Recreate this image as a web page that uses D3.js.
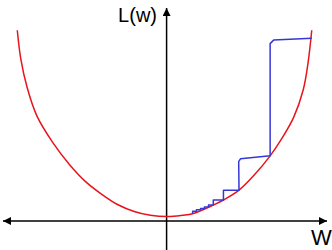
<!DOCTYPE html>
<html>
<head>
<meta charset="utf-8">
<script src="https://cdn.jsdelivr.net/npm/d3@7"></script>
<style>
  body { margin: 0; background: #fff; }
  svg { display: block; }
  text { font-family: "Liberation Sans", Arial, sans-serif; fill: #000; }
</style>
</head>
<body>
<svg id="chart"></svg>
<script>
// loss curve L(w)
const curveW = [-4.70, -4.59, -4.39, -4.08, -3.57, -3.06, -2.55, -2.04, -1.53, -1.02, -0.51, 0.05, 0.50, 0.82, 1.47, 1.79, 2.28, 2.78, 3.26, 3.60, 4.00, 4.30, 4.45, 4.57];
const curveL = [6.00, 5.10, 4.20, 3.30, 2.45, 1.78, 1.24, 0.84, 0.51, 0.30, 0.18, 0.14, 0.18, 0.23, 0.50, 0.66, 0.97, 1.47, 2.05, 2.55, 3.26, 4.12, 4.95, 6.00];

// descent steps (blue)
const stepW = [4.57, 3.37, 3.26, 3.26, 2.33, 2.27, 2.28, 1.79, 1.79, 1.47, 1.47, 1.32, 1.32, 1.19, 1.19, 1.07, 1.07, 0.94, 0.94, 0.82, 0.82];
const stepL = [5.75, 5.69, 5.58, 2.05, 1.96, 1.87, 0.97, 0.97, 0.66, 0.66, 0.50, 0.50, 0.44, 0.44, 0.39, 0.39, 0.35, 0.35, 0.31, 0.31, 0.22];

const xLabel = "W", yLabel = "L(w)";

const width = 332, height = 250;

const svg = d3.select("#chart")
              .attr("width", width)
              .attr("height", height);

const x = d3.scaleLinear().domain([-5.15, 5.05]).range([3, 327]);
const y = d3.scaleLinear().domain([0, 6.7]).range([221, 8]);

svg.append("defs").append("marker")
   .attr("id", "arrow")
   .attr("viewBox", "0 0 10 10")
   .attr("refX", 10)
   .attr("refY", 5)
   .attr("markerUnits", "userSpaceOnUse")
   .attr("markerWidth", 10)
   .attr("markerHeight", 8)
   .attr("orient", "auto-start-reverse")
   .append("path")
   .attr("d", "M0,0L10,5L0,10z")
   .attr("fill", "#000");

// axes
svg.append("line")
   .attr("x1", x(-5.15)).attr("x2", x(5.05))
   .attr("y1", y(0)).attr("y2", y(0))
   .attr("stroke", "#000").attr("stroke-width", 1.5)
   .attr("marker-start", "url(#arrow)")
   .attr("marker-end", "url(#arrow)");

svg.append("line")
   .attr("x1", x(0)).attr("x2", x(0))
   .attr("y1", height).attr("y2", y(6.7))
   .attr("stroke", "#000").attr("stroke-width", 1.5)
   .attr("marker-end", "url(#arrow)");

const curve = d3.line()
    .x(i => x(curveW[i]))
    .y(i => y(curveL[i]))
    .curve(d3.curveCatmullRom.alpha(0.5));

svg.append("path")
   .attr("d", curve(d3.range(curveW.length)))
   .attr("fill", "none")
   .attr("stroke", "#e8141c")
   .attr("stroke-width", 1.5);

const steps = d3.line()
    .x(i => x(stepW[i]))
    .y(i => y(stepL[i]));

svg.append("path")
   .attr("d", steps(d3.range(stepW.length)))
   .attr("fill", "none")
   .attr("stroke", "#3636d8")
   .attr("stroke-width", 1.5)
   .attr("stroke-linejoin", "round");

svg.append("text")
   .attr("x", 311)
   .attr("y", 245)
   .attr("font-size", 22)
   .text(xLabel);

svg.append("text")
   .attr("x", 157)
   .attr("y", 22)
   .attr("text-anchor", "end")
   .attr("font-size", 20)
   .text(yLabel);
</script>
</body>
</html>
